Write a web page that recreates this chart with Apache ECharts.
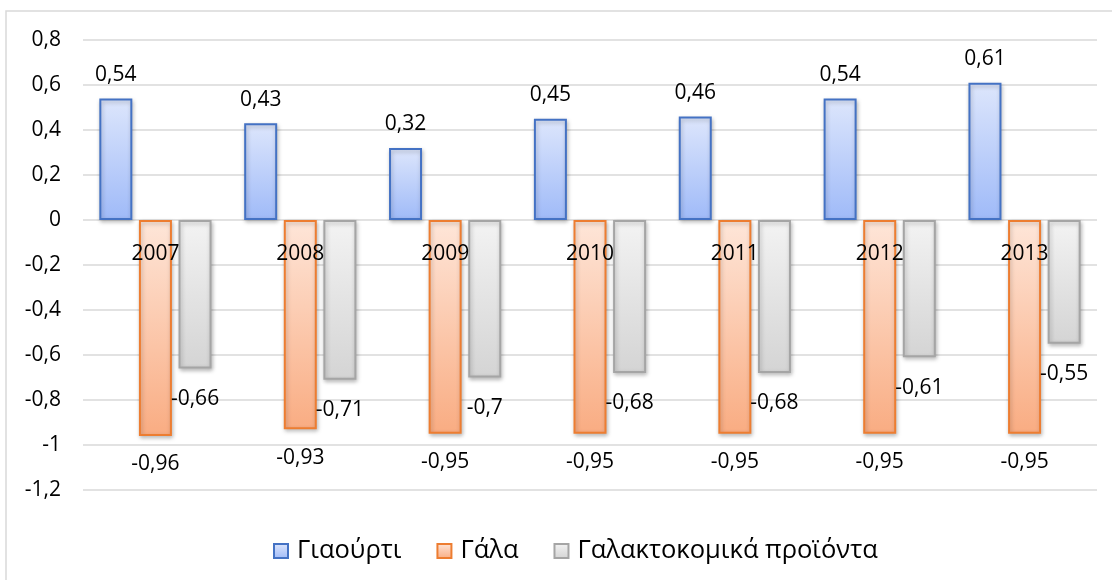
<!DOCTYPE html>
<html>
<head>
<meta charset="utf-8">
<script src="https://cdn.jsdelivr.net/npm/echarts@6/dist/echarts.min.js"></script>
<style>
  html, body { margin: 0; padding: 0; background: #fff; }
  #chart { width: 1112px; height: 580px; }
</style>
</head>
<body>
<div id="chart"></div>
<script>
// 年份
const years = ['2007', '2008', '2009', '2010', '2011', '2012', '2013']
// 系列数值
const yogurt = [0.54, 0.43, 0.32, 0.45, 0.46, 0.54, 0.61]
const milk = [-0.96, -0.93, -0.95, -0.95, -0.95, -0.95, -0.95]
const dairy = [-0.66, -0.71, -0.7, -0.68, -0.68, -0.61, -0.55]
const seriesNames = ['Γιαούρτι', 'Γάλα', 'Γαλακτοκομικά προϊόντα']

const font = 'Open Sans'

// 小数点换成逗号
const fmt = (v) => String(Math.round(v * 100) / 100).replace('.', ',')

const grad = (top, bottom) =>
  new echarts.graphic.LinearGradient(0, 0, 0, 1, [
    { offset: 0, color: top },
    { offset: 1, color: bottom }
  ])

const barStyle = (top, bottom, border) => ({
  color: grad(top, bottom),
  borderColor: border,
  borderWidth: 2,
  shadowBlur: 4,
  shadowOffsetX: 1,
  shadowOffsetY: 2,
  shadowColor: 'rgba(0,0,0,0.25)'
})

const label = (position, distance) => ({
  show: true,
  position: position,
  distance: distance,
  color: '#000',
  fontFamily: font,
  fontSize: 21,
  formatter: (p) => fmt(p.value)
})

const option = {
  animation: false,
  textStyle: { fontFamily: font },
  graphic: [
    {
      type: 'rect',
      shape: { x: 6, y: 11, width: 1300, height: 800 },
      style: { fill: 'none', stroke: '#d9d9d9', lineWidth: 1.5 },
      silent: true
    }
  ],
  legend: {
    left: 268,
    top: 533,
    itemWidth: 14,
    itemHeight: 14,
    itemGap: 35,
    icon: 'rect',
    textStyle: { fontFamily: font, fontSize: 25.5, color: '#000', padding: [0, 0, 0, 4] },
    data: seriesNames
  },
  grid: {
    left: 83,
    right: 15,
    top: 40,
    bottom: 90
  },
  xAxis: {
    type: 'category',
    data: years,
    z: 10,
    axisTick: { show: false },
    axisLine: { show: false, onZero: false },
    // 年份标签放在零线下方
    axisLabel: {
      margin: -246,
      color: '#000',
      fontFamily: font,
      fontSize: 21
    }
  },
  yAxis: {
    type: 'value',
    min: -1.2,
    max: 0.8,
    interval: 0.2,
    axisLine: { show: false },
    axisTick: { show: false },
    splitLine: { lineStyle: { color: '#d9d9d9', width: 1.5 } },
    axisLabel: {
      margin: 22,
      color: '#000',
      fontFamily: font,
      fontSize: 21,
      formatter: (v) => fmt(v)
    }
  },
  series: [
    {
      name: seriesNames[0],
      type: 'bar',
      data: yogurt,
      barWidth: 33,
      barGap: '20%',
      itemStyle: barStyle('#dde6fc', '#9fbaf8', '#4472c4'),
      label: label('top', 13)
    },
    {
      name: seriesNames[1],
      type: 'bar',
      data: milk,
      barWidth: 33,
      barGap: '20%',
      itemStyle: barStyle('#fee6d9', '#f9ac82', '#ed7d31'),
      label: label('bottom', 18)
    },
    {
      name: seriesNames[2],
      type: 'bar',
      data: dairy,
      barWidth: 33,
      barGap: '20%',
      itemStyle: barStyle('#f3f3f3', '#d4d4d4', '#a5a5a5'),
      label: label('bottom', 20)
    }
  ]
}

const chart = echarts.init(document.getElementById('chart'))
chart.setOption(option)
</script>
</body>
</html>
